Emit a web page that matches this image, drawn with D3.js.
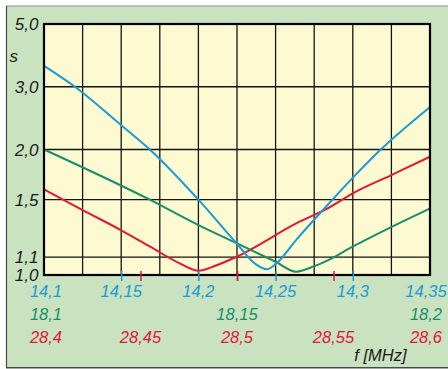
<!DOCTYPE html>
<html>
<head>
<meta charset="utf-8">
<script src="https://cdn.jsdelivr.net/npm/d3@7"></script>
<style>
  html, body { margin: 0; padding: 0; background: #fff; }
  svg { display: block; }
  text { font-family: "Liberation Sans", Arial, sans-serif; font-style: italic; }
</style>
</head>
<body>
<svg id="chart" width="448" height="369"></svg>
<script>
// SWR curves of the antenna on three bands, each with its own frequency axis
const blueFreq = [14.1, 14.12, 14.1498, 14.1685, 14.2, 14.225, 14.2364, 14.2444, 14.2498, 14.2642, 14.2868, 14.2996, 14.3181, 14.3495];
const blueSwr  = [3.50, 3.00, 2.325, 2.00, 1.50, 1.18, 1.064, 1.031, 1.058, 1.216, 1.50, 1.69, 2.00, 2.60];

const greenFreq = [18.1, 18.1274, 18.14, 18.15, 18.16, 18.1653, 18.1698, 18.1743, 18.1798, 18.1898, 18.1997];
const greenSwr  = [2.00, 1.50, 1.306, 1.184, 1.073, 1.018, 1.046, 1.090, 1.161, 1.29, 1.425];

const redFreq = [28.4, 28.42, 28.4398, 28.4548, 28.4703, 28.4801, 28.4884, 28.5, 28.5324, 28.547, 28.56, 28.58, 28.6];
const redSwr  = [1.589, 1.417, 1.271, 1.164, 1.064, 1.023, 1.049, 1.103, 1.33, 1.43, 1.554, 1.723, 1.916];

const swrTicks   = [1.0, 1.1, 1.5, 2.0, 3.0, 5.0];
const blueTicks  = [14.1, 14.15, 14.2, 14.25, 14.3, 14.35];
const greenTicks = [18.1, 18.15, 18.2];
const redTicks   = [28.4, 28.45, 28.5, 28.55, 28.6];
const gridStepsX = d3.range(0, 11);   // ten equal divisions of each band

const colors = { blue: "#1a9bd7", green: "#159069", red: "#e3173a", text: "#1a1a1a" };

const svg = d3.select("#chart");
const plotLeft = 44, plotRight = 430, plotTop = 24, plotBottom = 275;

// SWR is plotted linearly in the reflection coefficient |r| = (s-1)/(s+1)
const rho = s => (s - 1) / (s + 1);
const y = d3.scaleLinear().domain([0, rho(5)]).range([plotBottom, plotTop]);
const ys = s => y(rho(s));

const xBlue  = d3.scaleLinear().domain([14.1, 14.35]).range([plotLeft, plotRight]);
const xGreen = d3.scaleLinear().domain([18.1, 18.2]).range([plotLeft, plotRight]);
const xRed   = d3.scaleLinear().domain([28.4, 28.6]).range([plotLeft, plotRight]);
const xGrid  = d3.scaleLinear().domain([0, 10]).range([plotLeft, plotRight]);

const comma = d3.formatLocale({ decimal: ",", thousands: ".", grouping: [3], currency: ["", ""] });
const fmt1 = comma.format(".1f");
const fmtF = v => String(+v.toFixed(3)).replace(".", ",");

// outer panel
svg.append("rect").attr("x", 6.5).attr("y", 6).attr("width", 448).attr("height", 361.5)
  .attr("fill", "#c9e2c0");
svg.append("line").attr("x1", 6).attr("x2", 448).attr("y1", 6).attr("y2", 6)
  .attr("stroke", "#8c8c8c").attr("stroke-width", 1.2);
svg.append("line").attr("x1", 6.5).attr("x2", 6.5).attr("y1", 6).attr("y2", 368)
  .attr("stroke", "#4a4a4a").attr("stroke-width", 1.2);
svg.append("line").attr("x1", 6).attr("x2", 448).attr("y1", 367.8).attr("y2", 367.8)
  .attr("stroke", "#4a4a4a").attr("stroke-width", 1.6);

// plot area
svg.append("rect").attr("x", plotLeft).attr("y", plotTop)
  .attr("width", plotRight - plotLeft).attr("height", plotBottom - plotTop)
  .attr("fill", "#fdf9d0");

const grid = svg.append("g").attr("stroke", "#151515").attr("stroke-width", 1.3);
grid.selectAll("line.v").data(gridStepsX.slice(1, -1)).join("line")
  .attr("class", "v")
  .attr("x1", d => xGrid(d)).attr("x2", d => xGrid(d))
  .attr("y1", plotTop).attr("y2", plotBottom);
grid.selectAll("line.h").data(swrTicks.filter(s => s > 1 && s < 5)).join("line")
  .attr("class", "h")
  .attr("x1", plotLeft).attr("x2", plotRight)
  .attr("y1", d => ys(d)).attr("y2", d => ys(d));

// curves
const line = (xs, freq, swr) => d3.line().curve(d3.curveMonotoneX)
  (freq.map((f, i) => [xs(f), ys(swr[i])]));

const curves = svg.append("g").attr("fill", "none").attr("stroke-width", 2)
  .attr("stroke-linejoin", "round").attr("stroke-linecap", "round");
curves.append("path").attr("d", line(xRed, redFreq, redSwr)).attr("stroke", colors.red);
curves.append("path").attr("d", line(xGreen, greenFreq, greenSwr)).attr("stroke", colors.green);
curves.append("path").attr("d", line(xBlue, blueFreq, blueSwr)).attr("stroke", colors.blue);

// frame of the plot area
svg.append("rect").attr("x", plotLeft).attr("y", plotTop)
  .attr("width", plotRight - plotLeft).attr("height", plotBottom - plotTop)
  .attr("fill", "none").attr("stroke", "#000").attr("stroke-width", 2.2);

// frequency tick marks, straddling the bottom edge
function tickMarks(scale, ticks, color) {
  const axis = d3.axisBottom(scale).tickValues(ticks.slice(1, -1)).tickSize(10).tickFormat("");
  const g = svg.append("g").attr("transform", "translate(0,271)").call(axis);
  g.select(".domain").remove();
  g.selectAll(".tick line").attr("stroke", color).attr("stroke-width", 1.5);
}
tickMarks(xGreen, greenTicks, colors.green);
tickMarks(xBlue, blueTicks, colors.blue);
tickMarks(xRed, redTicks, colors.red);

// frequency labels, one row per band; the end labels are pulled inwards
const fontSize = 16.5;
function labelRow(scale, ticks, color, baseline) {
  svg.append("g").selectAll("text").data(ticks).join("text")
    .attr("x", d => Math.max(46, Math.min(scale(d), 426)))
    .attr("y", baseline)
    .attr("fill", color)
    .attr("font-size", fontSize)
    .attr("text-anchor", "middle")
    .text(d => fmtF(d));
}
labelRow(xBlue, blueTicks, colors.blue, 296.5);
labelRow(xGreen, greenTicks, colors.green, 319.5);
labelRow(xRed, redTicks, colors.red, 342.5);

// SWR labels
svg.append("g").selectAll("text").data(swrTicks).join("text")
  .attr("x", 38.5).attr("y", d => ys(d)).attr("dy", "0.36em")
  .attr("text-anchor", "end").attr("font-size", 17).attr("fill", colors.text)
  .text(d => fmt1(d));

svg.append("text").attr("x", 9.5).attr("y", 61.5).attr("font-size", 17)
  .attr("fill", colors.text).text("s");
svg.append("text").attr("x", 406.5).attr("y", 360.5).attr("font-size", 16.5)
  .attr("text-anchor", "end").attr("fill", colors.text).text("f [MHz]");
</script>
</body>
</html>
